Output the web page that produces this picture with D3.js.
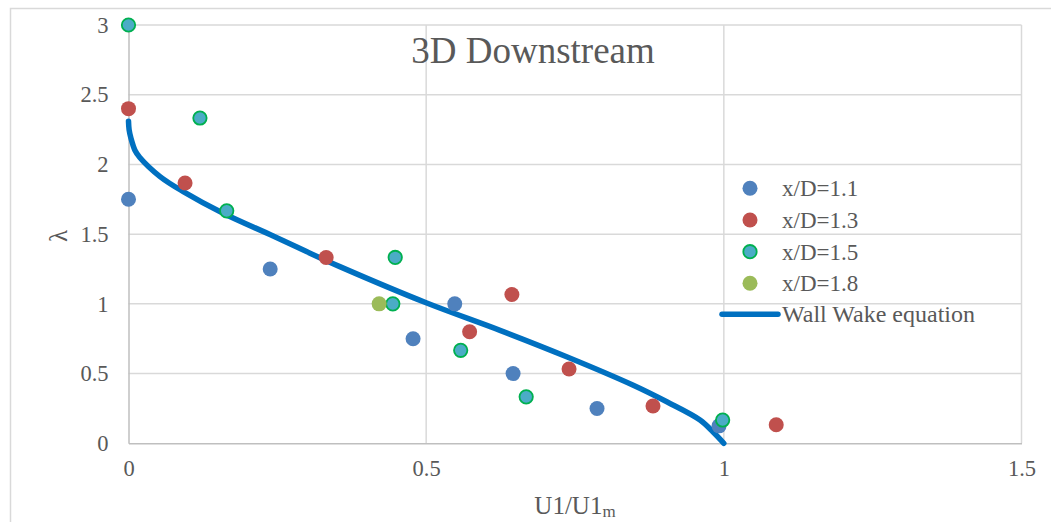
<!DOCTYPE html>
<head>
<meta charset="utf-8">
<style>
  body { margin: 0; background: #fff; }
  svg text { font-family: "Liberation Serif", "Times New Roman", serif; fill: #595959; }
</style>
</head>
<body>
<div class="chart"></div>
<script src="https://d3js.org/d3.v7.min.js"></script>
<script type="text/javascript">

// series data, [U1/U1m, lambda]
var xd11 = [[0, 1.75], [0.238, 1.25], [0.478, 0.75], [0.548, 1.0], [0.646, 0.5], [0.787, 0.25], [0.992, 0.125]];
var xd13 = [[0, 2.4], [0.095, 1.867], [0.332, 1.333], [0.573, 0.8], [0.644, 1.067], [0.74, 0.533], [0.881, 0.267], [1.088, 0.133]];
var xd15 = [[0, 3.0], [0.12, 2.333], [0.165, 1.667], [0.448, 1.333], [0.444, 1.0], [0.558, 0.667], [0.668, 0.333], [0.998, 0.167]];
var xd18 = [[0.421, 1.0]];
// wall wake equation curve
var wallWake = [[0, 2.31], [0.001, 2.25], [0.004, 2.19], [0.011, 2.10], [0.019, 2.05], [0.053, 1.913],
  [0.092, 1.805], [0.159, 1.65], [0.243, 1.487], [0.299, 1.375], [0.355, 1.267], [0.501, 1.006],
  [0.624, 0.81], [0.737, 0.619], [0.847, 0.418], [0.905, 0.296], [0.96, 0.167], [0.982, 0.081], [1.0, 0]];

var xTicks = [0, 0.5, 1, 1.5];
var yTicks = [0, 0.5, 1, 1.5, 2, 2.5, 3];
var seriesNames = ["x/D=1.1", "x/D=1.3", "x/D=1.5", "x/D=1.8"];
var lineName = "Wall Wake equation";

var width = 1051, height = 522;
var gridCol = "#d9d9d9";

var svg = d3.select(".chart").append("svg")
  .attr("width", width)
  .attr("height", height);

// chart border
svg.append("path")
  .attr("d", "M10.5," + height + "V8.5H" + width)
  .attr("fill", "none")
  .attr("stroke", gridCol)
  .attr("stroke-width", 1.5);

var x = d3.scaleLinear().domain([0, 1.5]).range([128.5, 1021.5]);
var y = d3.scaleLinear().domain([0, 3]).range([443.3, 25]);

// gridlines
svg.append("g").selectAll("line").data(yTicks.slice(1)).enter().append("line")
  .attr("x1", x(0)).attr("x2", x(1.5))
  .attr("y1", function(d) { return y(d); }).attr("y2", function(d) { return y(d); })
  .attr("stroke", gridCol).attr("stroke-width", 1.5);
svg.append("g").selectAll("line").data(xTicks.slice(1)).enter().append("line")
  .attr("y1", y(0)).attr("y2", y(3))
  .attr("x1", function(d) { return x(d); }).attr("x2", function(d) { return x(d); })
  .attr("stroke", gridCol).attr("stroke-width", 1.5);

// axes
var yAxis = d3.axisLeft(y).tickValues(yTicks).tickSize(0).tickPadding(20).tickFormat(d3.format("~g"));
var xAxis = d3.axisBottom(x).tickValues(xTicks).tickSize(0).tickPadding(17).tickFormat(d3.format("~g"));

var gy = svg.append("g").attr("transform", "translate(" + x(0) + ",0)").call(yAxis);
var gx = svg.append("g").attr("transform", "translate(0," + y(0) + ")").call(xAxis);
[gy, gx].forEach(function(g) {
  g.select(".domain").attr("stroke", "#bfbfbf").attr("stroke-width", 1.5);
  g.selectAll("text").attr("font-size", "22.5px").attr("font-family", "Liberation Serif").attr("fill", "#595959");
});

// line
svg.append("path")
  .datum(wallWake)
  .attr("fill", "none")
  .attr("stroke", "#0070c0")
  .attr("stroke-width", 5.5)
  .attr("stroke-linecap", "round")
  .attr("stroke-linejoin", "round")
  .attr("d", d3.line().x(function(d) { return x(d[0]); }).y(function(d) { return y(d[1]); }).curve(d3.curveCatmullRom.alpha(0.5)));

var styles = [
  { fill: "#4f81bd", stroke: "none" },
  { fill: "#c0504d", stroke: "none" },
  { fill: "#4bacc6", stroke: "#00b050" },
  { fill: "#9bbb59", stroke: "none" }
];
var allSeries = [xd11, xd13, xd15, xd18];

allSeries.forEach(function(s, i) {
  svg.append("g").selectAll("circle").data(s).enter().append("circle")
    .attr("cx", function(d) { return x(d[0]); })
    .attr("cy", function(d) { return y(d[1]); })
    .attr("r", styles[i].stroke == "none" ? 7.5 : 6.7)
    .attr("fill", styles[i].fill)
    .attr("stroke", styles[i].stroke)
    .attr("stroke-width", 1.8);
});

// title
svg.append("text")
  .attr("x", 533).attr("y", 63)
  .attr("text-anchor", "middle")
  .attr("font-size", "37px")
  .text("3D Downstream");

// axis titles
var xt = svg.append("text")
  .attr("x", 575).attr("y", 514)
  .attr("text-anchor", "middle")
  .attr("font-size", "25px");
xt.append("tspan").text("U1/U1");
xt.append("tspan").attr("font-size", "17px").attr("dy", 3).text("m");

svg.append("text")
  .attr("transform", "translate(67,236) rotate(-90)")
  .attr("text-anchor", "middle")
  .attr("font-size", "25px")
  .text("\u03bb");

// legend
var legend = svg.append("g").attr("transform", "translate(750,0)");
var rowY = [188.3, 220, 251.7, 283.3];
seriesNames.forEach(function(n, i) {
  legend.append("circle")
    .attr("cx", 0).attr("cy", rowY[i])
    .attr("r", styles[i].stroke == "none" ? 7.5 : 6.7)
    .attr("fill", styles[i].fill)
    .attr("stroke", styles[i].stroke)
    .attr("stroke-width", 1.8);
  legend.append("text")
    .attr("x", 32).attr("y", rowY[i] + 8)
    .attr("font-size", "23px")
    .text(n);
});
legend.append("line")
  .attr("x1", -28).attr("x2", 28)
  .attr("y1", 314.3).attr("y2", 314.3)
  .attr("stroke", "#0070c0").attr("stroke-width", 5.5).attr("stroke-linecap", "round");
legend.append("text")
  .attr("x", 32).attr("y", 322.3)
  .attr("font-size", "24px")
  .text(lineName);

</script>
</body>
